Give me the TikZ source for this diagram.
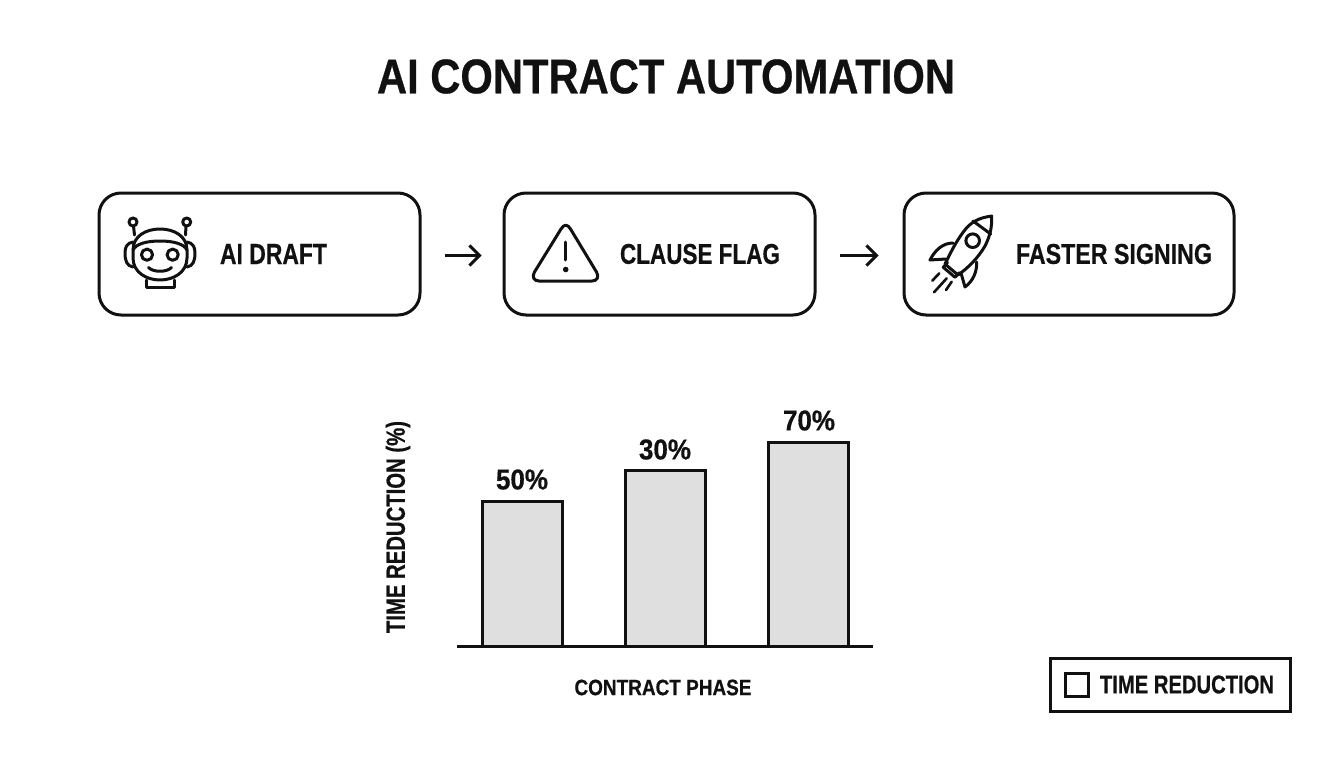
\documentclass[tikz,border=0pt]{standalone}
\usepackage{fontspec}
\setmainfont[BoldFeatures={FakeBold=0.6}]{Liberation Sans}
\usepackage{graphicx}
\newcommand{\fit}[3]{\resizebox{#1pt}{#2pt}{\bfseries #3}}
\definecolor{ink}{HTML}{111111}
\definecolor{barfill}{HTML}{DEDFDE}
\tikzset{
  stagebox/.style={draw=ink,line width=3pt,rounded corners=22pt,rectangle,inner sep=0pt,fill=white},
  label/.style={inner sep=0pt,outer sep=0pt,text=ink},
  icon/.style={draw=ink,line width=3pt,line cap=round,line join=round},
  flow/.style={draw=ink,line width=2.6pt,-{Straight Barb[length=10pt,width=20pt,line width=3pt]}},
  bar/.style={draw=ink,line width=3pt,fill=barfill,rectangle,inner sep=0pt,outer sep=0pt},
}
\usetikzlibrary{arrows.meta}
\begin{document}
\begin{tikzpicture}[x=1pt,y=-1pt]
\useasboundingbox (0,0) rectangle (1344,768);
\fill[white] (0,0) rectangle (1344,768);
\node[label] (title) at (666,76.5) {\fit{578}{34}{AI CONTRACT AUTOMATION}};
% stage boxes
\node[stagebox,minimum width=321pt,minimum height=122pt] (draft) at (259.5,254) {};
\node[stagebox,minimum width=311pt,minimum height=122pt] (flag) at (659.5,254) {};
\node[stagebox,minimum width=330pt,minimum height=122pt] (sign) at (1069,254) {};
\node[label] (draftt) at (273.5,254) {\fit{107}{20}{AI DRAFT}};
\node[label] (flagt) at (700,254) {\fit{160}{20}{CLAUSE FLAG}};
\node[label] (signt) at (1114,254) {\fit{196}{20}{FASTER SIGNING}};
% arrows
\draw[flow,shorten <=23pt,shorten >=21pt] ([yshift=-1.5pt]draft.east) -- ([yshift=-1.5pt]flag.west);
\draw[flow,shorten <=23pt,shorten >=24pt] ([yshift=-1.5pt]flag.east) -- ([yshift=-1.5pt]sign.west);
% robot
\draw[icon] (133,222) circle (4);
\draw[icon] (186.7,222) circle (4);
\draw[icon] (133.5,226) -- (134.5,235);
\draw[icon] (186,226) -- (185.5,235);
\draw[icon] (133,250) .. controls (133,236) and (146,229) .. (160,229) .. controls (174,229) and (187,236) .. (187,250) -- (187,258) .. controls (187,272) and (174,280) .. (160,280) .. controls (146,280) and (133,272) .. (133,258) -- cycle;
\draw[icon] (133,250) .. controls (136,244) and (146,241) .. (160,241) .. controls (174,241) and (184,244) .. (187,250);
\draw[icon] (133,242) .. controls (127,243) and (125,247) .. (125,253) .. controls (125,261) and (127,266) .. (133,267);
\draw[icon] (187,242) .. controls (193,243) and (195,247) .. (195,253) .. controls (195,261) and (193,266) .. (187,267);
\draw[icon] (147,254.7) circle (5.6);
\draw[icon] (172.7,254.7) circle (5.6);
\draw[icon] (148.5,267.5) .. controls (153,272.5) and (167,272.5) .. (171.5,267.5);
\draw[icon] (146,280) -- (146,287.5) -- (174,287.5) -- (174,280);
% warning
\draw[icon] (561,229) .. controls (564,224) and (567.5,224) .. (570.5,229) -- (596.5,272) .. controls (599.5,277) and (597,281) .. (592,281) -- (539,281) .. controls (534,281) and (531.5,277) .. (534.5,272) -- cycle;
\draw[icon] (565.7,242) -- (565.7,260);
\fill[ink] (565.7,269.5) circle (2.8);
% rocket
\draw[icon] (991.7,216) .. controls (978,218) and (971,222) .. (964,231) .. controls (955,243) and (950,254) .. (945,264) -- (958,275) .. controls (968,268) and (978,258) .. (985,246) .. controls (990,236) and (992,228) .. (991.7,216) -- cycle;
\draw[icon] (973,221) -- (990.7,234);
\draw[icon] (972.7,240.7) circle (6.8);
\draw[icon] (953,243) .. controls (943,243) and (935,250) .. (930,260) -- (946,259);
\draw[icon] (976.7,262) .. controls (977,272) and (973,281) .. (965,287) -- (961,273);
\draw[icon] (947.5,262.5) -- (943.3,267.3) -- (955,277.3) -- (959.3,272.7);
\draw[icon,line width=2.6pt] (939.3,273.3) -- (932.3,280.7);
\draw[icon,line width=2.6pt] (946.7,278.3) -- (934,292.3);
\draw[icon,line width=2.6pt] (951.7,281.7) -- (946,290);
% chart
\node[bar,anchor=north west,minimum width=80pt,minimum height=145pt] (b1) at (482,501) {};
\node[bar,anchor=north west,minimum width=80pt,minimum height=176pt] (b2) at (625,470) {};
\node[bar,anchor=north west,minimum width=80pt,minimum height=204pt] (b3) at (768,442) {};
\coordinate (axl) at (457,646);
\coordinate (axr) at (873,646);
\draw[draw=ink,line width=3pt] (axl) -- (axr);
\node[label] (v1) at (522,479.5) {\fit{52}{20}{50\%}};
\node[label] (v2) at (665,449.5) {\fit{52}{20}{30\%}};
\node[label] (v3) at (809,420.5) {\fit{52}{20}{70\%}};
\node[label,rotate=90] (ylab) at (398,527) {\fit{212}{19}{TIME REDUCTION (\%)}};
\node[label] (xlab) at (663,687.5) {\fit{177}{15.5}{CONTRACT PHASE}};
% legend
\node[draw=ink,line width=3pt,rectangle,inner sep=0pt,minimum width=240pt,minimum height=53pt] (legend) at (1170,684.5) {};
\node[draw=ink,line width=3pt,rectangle,inner sep=0pt,minimum width=23pt,minimum height=23pt] (swatch) at (1076.5,684.5) {};
\node[label] (legt) at (1187,684.5) {\fit{174}{18}{TIME REDUCTION}};
\end{tikzpicture}
\end{document}
